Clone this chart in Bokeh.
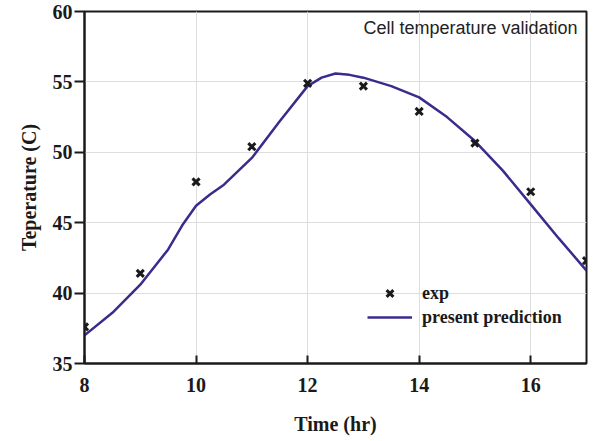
from bokeh.plotting import figure
from bokeh.models import FixedTicker, Legend, LegendItem, Label, ColumnDataSource
from bokeh.embed import file_html
from bokeh.resources import INLINE

# experimental points
exp_time = [8, 9, 10, 11, 12, 13, 14, 15, 16, 17]
exp_temp = [37.6, 41.4, 47.9, 50.4, 54.9, 54.7, 52.9, 50.65, 47.2, 42.3]

# model prediction
pred_time = [8.0, 8.5, 9.0, 9.5, 9.75, 10.0, 10.25, 10.5, 11.0, 11.5, 12.0, 12.25, 12.5, 12.75,
             13.0, 13.5, 14.0, 14.5, 15.0, 15.5, 16.0, 16.5, 17.0]
pred_temp = [37.0, 38.6, 40.6, 43.1, 44.8, 46.2, 47.0, 47.7, 49.6, 52.2, 54.7, 55.3, 55.6, 55.5,
             55.3, 54.7, 53.9, 52.5, 50.8, 48.7, 46.3, 43.9, 41.6]

x_ticks = [8, 10, 12, 14, 16]
y_ticks = [35, 40, 45, 50, 55, 60]

SERIF = "Liberation Serif"

p = figure(width=601, height=441, x_range=(8, 17), y_range=(35, 60),
           output_backend="svg", toolbar_location=None,
           min_border_left=84, min_border_right=15, min_border_top=11, min_border_bottom=78)

p.xaxis.ticker = FixedTicker(ticks=x_ticks)
p.yaxis.ticker = FixedTicker(ticks=y_ticks)
for ax in (p.xaxis[0], p.yaxis[0]):
    ax.major_label_text_font = SERIF
    ax.major_label_text_font_style = "bold"
    ax.major_label_text_font_size = "20px"
    ax.major_label_text_color = "#1a1a1a"
    ax.axis_label_text_font = SERIF
    ax.axis_label_text_font_style = "bold"
    ax.axis_label_text_font_size = "20px"
    ax.axis_label_text_color = "#1a1a1a"
    ax.axis_line_width = 2
    ax.axis_line_color = "#1a1a1a"
    ax.major_tick_line_color = "#1a1a1a"
    ax.major_tick_line_width = 2
    ax.minor_tick_line_color = None

p.xaxis.axis_label = "Time (hr)"
p.yaxis.axis_label = "Teperature (C)"
p.xaxis.major_tick_in = 8
p.xaxis.major_tick_out = 0
p.yaxis.major_tick_in = 0
p.yaxis.major_tick_out = 10
p.xaxis.major_label_standoff = 14
p.xaxis.axis_label_standoff = 18
p.yaxis.major_label_standoff = 2
p.yaxis.axis_label_standoff = 10

p.xgrid.grid_line_color = "#dddddd"
p.ygrid.grid_line_color = "#dddddd"
p.outline_line_color = "#1a1a1a"
p.outline_line_width = 2
p.background_fill_color = "white"
p.border_fill_color = "white"

pred_src = ColumnDataSource(dict(x=pred_time, y=pred_temp))
exp_src = ColumnDataSource(dict(x=exp_time, y=exp_temp))

line_r = p.line("x", "y", source=pred_src, line_color="#3a2b8c", line_width=2.5)
pts_r = p.scatter("x", "y", source=exp_src, marker="x", size=10, line_width=3,
                  line_color="#1a1a1a")

legend = Legend(items=[LegendItem(label="exp", renderers=[pts_r]),
                       LegendItem(label="present prediction", renderers=[line_r])],
                location=(283, 34), glyph_width=45, glyph_height=24, label_height=24,
                label_standoff=10, spacing=0, padding=0, margin=0,
                border_line_color=None, background_fill_alpha=0,
                label_text_font=SERIF, label_text_font_style="bold",
                label_text_font_size="18px", label_text_color="#1a1a1a")
p.add_layout(legend)

title = Label(x=16.84, y=58.86, text="Cell temperature validation",
              text_font="Liberation Sans", text_font_size="18px", text_color="#222222",
              text_align="right", text_baseline="middle")
p.add_layout(title)

open("out.html", "w").write(file_html(p, INLINE))
